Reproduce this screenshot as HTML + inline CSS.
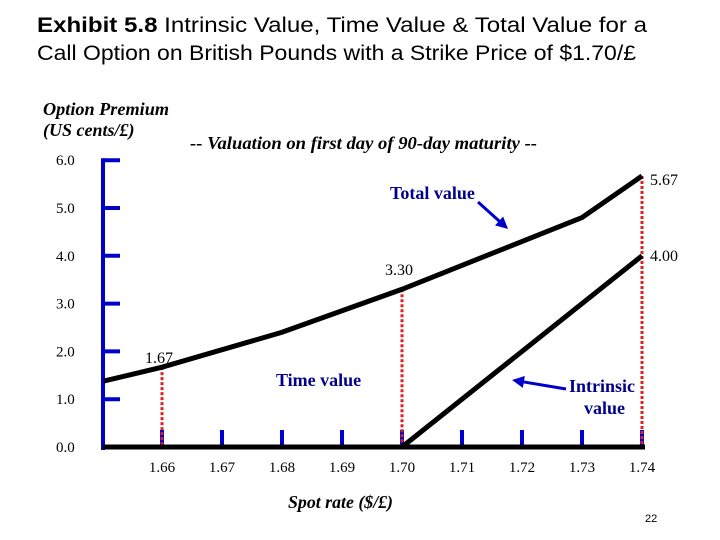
<!DOCTYPE html>
<html><head><meta charset="utf-8"><style>
body{margin:0;background:#fff;}
svg{display:block;}
.t{font-family:"Liberation Sans",Arial,sans-serif;font-size:21px;fill:#000}
.s{font-family:"Liberation Serif",serif;font-size:15px;fill:#000}
.v{font-family:"Liberation Serif",serif;font-size:16px;fill:#000}
.bi{font-family:"Liberation Serif",serif;font-size:18px;font-weight:bold;font-style:italic;fill:#000}
.b{font-family:"Liberation Serif",serif;font-size:18px;font-weight:bold;fill:#00008b}
</style></head><body>
<svg width="720" height="540" viewBox="0 0 720 540">
<text class="t" x="37" y="32" textLength="610" lengthAdjust="spacingAndGlyphs"><tspan font-weight="bold">Exhibit 5.8</tspan>  Intrinsic Value, Time Value &amp; Total Value for a</text>
<text class="t" x="37" y="60" textLength="599" lengthAdjust="spacingAndGlyphs">Call Option on British Pounds with a Strike Price of $1.70/£</text>
<text class="bi" x="43" y="115" textLength="126" lengthAdjust="spacingAndGlyphs">Option Premium</text>
<text class="bi" x="43" y="136">(US cents/£)</text>
<text class="bi" x="190" y="149" textLength="347" lengthAdjust="spacingAndGlyphs">-- Valuation on first day of 90-day maturity --</text>
<text class="bi" x="288" y="508" textLength="105" lengthAdjust="spacingAndGlyphs">Spot rate ($/£)</text>
<text x="645" y="522" font-family="Liberation Sans,sans-serif" font-size="11">22</text>
<g id="plot"></g>
</svg>
<script>
const xTicks=[1.66,1.67,1.68,1.69,1.70,1.71,1.72,1.73,1.74];
const yTicks=[0,1,2,3,4,5,6];
const totalX=[1.6503,1.66,1.68,1.70,1.73,1.74];
const totalY=[1.38,1.67,2.4,3.30,4.8,5.67];
const intrinsicX=[1.6503,1.70,1.74];
const intrinsicY=[0,0,4.00];
const markX=[1.66,1.70,1.74];
const markY=[1.67,3.30,5.67];
const markLabels=["1.67","3.30","5.67"];
const sx=v=>162+(v-1.66)*6000;
const sy=v=>447-v*47.8;
const NS="http://www.w3.org/2000/svg";
const g=document.getElementById('plot');
function mk(tag,attrs){const e=document.createElementNS(NS,tag);for(const k in attrs)e.setAttribute(k,attrs[k]);g.appendChild(e);return e;}
let e=mk('line',{x1:103,y1:sy(6)-2,x2:103,y2:450,stroke:'#0000cc','stroke-width':4});


yTicks.forEach(v=>{
 let t=mk('line',{x1:103,y1:sy(v),x2:120,y2:sy(v),stroke:'#0000cc','stroke-width':4});
 
 
 let l=mk('text',{x:56,y:sy(v)+5,class:'s'});l.textContent=v.toFixed(1);
 
 
});
xTicks.forEach(v=>{
 let t=mk('line',{x1:sx(v),y1:430,x2:sx(v),y2:447,stroke:'#0000cc','stroke-width':4});
 
 
 let l=mk('text',{x:sx(v),y:472,class:'s','text-anchor':'middle'});l.textContent=v.toFixed(2);
 
 
});
markX.forEach((v,i)=>{
 let d=mk('line',{x1:sx(v),y1:sy(markY[i]),x2:sx(v),y2:447,stroke:'#dd2222','stroke-width':3,'stroke-dasharray':'3,2'});
 
 
});
e=mk('line',{x1:103,y1:447,x2:645,y2:447,stroke:'#000','stroke-width':5});


let p=mk('polyline',{points:totalX.map((v,i)=>sx(v)+','+sy(totalY[i])).join(' '),fill:'none',stroke:'#000','stroke-width':5});


p=mk('polyline',{points:intrinsicX.map((v,i)=>sx(v)+','+sy(intrinsicY[i])).join(' '),fill:'none',stroke:'#000','stroke-width':5});


const lp=[[145,363],[385,275],[650,185]];
markLabels.forEach((s,i)=>{
 let l=mk('text',{x:lp[i][0],y:lp[i][1],class:'v'});l.textContent=s;
 
 
});
let l=mk('text',{x:650,y:261,class:'v'});l.textContent=intrinsicY[2].toFixed(2);


const ann=[["Total value",390,199],["Time value",276,386],["Intrinsic",569,392],["value",584,414]];
ann.forEach(a=>{let t=mk('text',{x:a[1],y:a[2],class:'b'});t.textContent=a[0];
 
 });
function arrow(x1,y1,x2,y2){
 const a=Math.atan2(y2-y1,x2-x1),L=12,W=6;
 let ln=mk('line',{x1,y1,x2:x2-Math.cos(a)*8,y2:y2-Math.sin(a)*8,stroke:'#0000cc','stroke-width':3});
 
 
 const bx=x2-Math.cos(a)*L,by=y2-Math.sin(a)*L;
 let h=mk('polygon',{points:`${x2},${y2} ${bx-Math.sin(a)*W},${by+Math.cos(a)*W} ${bx+Math.sin(a)*W},${by-Math.cos(a)*W}`,fill:'#0000cc'});
 
 
}
arrow(478,202,508,229);
arrow(566,389,512,380);
</script>
</body></html>
